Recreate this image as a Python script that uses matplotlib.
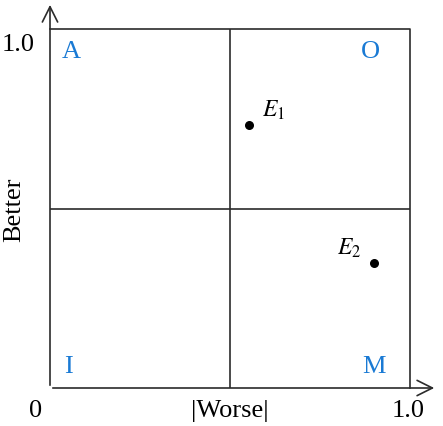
import matplotlib.pyplot as plt

plt.rcParams['font.family'] = ['Liberation Serif', 'DejaVu Serif']

# quadrant labels and their positions
quad_labels = ['A', 'O', 'I', 'M']
quad_x = [0.06, 0.89, 0.05, 0.90]
quad_y = [0.94, 0.94, 0.06, 0.06]

# evaluated points
point_names = ['$E_1$', '$E_2$']
point_x = [0.553, 0.90]
point_y = [0.733, 0.348]

fig = plt.figure(figsize=(4.43, 4.27), dpi=100)
ax = fig.add_axes([50/443, 38/427, 360/443, 359/427])
ax.set_xlim(0, 1)
ax.set_ylim(0, 1)
ax.axis('off')

lc = '#2b2b2b'
# box and quadrant dividers
ax.plot([0, 1, 1], [1, 1, 0], color=lc, lw=1.2, clip_on=False)
ax.plot([0.5, 0.5], [0, 1], color=lc, lw=1.2)
ax.plot([0, 1], [0.5, 0.5], color=lc, lw=1.2)

# axes with open arrows
arrow = dict(arrowstyle='->,head_length=1.1,head_width=0.55', color=lc, lw=1.2)
ax.annotate('', xy=(0, 1.075), xytext=(0, 0), arrowprops=arrow, annotation_clip=False)
ax.annotate('', xy=(1.075, 0), xytext=(0, 0), arrowprops=arrow, annotation_clip=False)

for lab, x, y in zip(quad_labels, quad_x, quad_y):
    ax.text(x, y, lab, color='#1a7ad4', fontsize=19, ha='center', va='center')

ax.scatter(point_x, point_y, color='black', s=30, zorder=3)
ax.text(point_x[0] + 0.035, point_y[0] + 0.01, point_names[0], fontsize=17,
        ha='left', va='bottom', math_fontfamily='stix')
ax.text(point_x[1] - 0.035, point_y[1] + 0.01, point_names[1], fontsize=17,
        ha='right', va='bottom', math_fontfamily='stix')

ax.text(-0.088, 0.958, '1.0', fontsize=19, ha='center', va='center')
ax.text(-0.04, -0.06, '0', fontsize=19, ha='center', va='center')
ax.text(0.5, -0.06, '|Worse|', fontsize=19, ha='center', va='center')
ax.text(0.995, -0.06, '1.0', fontsize=19, ha='center', va='center')
ax.text(-0.1, 0.5, 'Better', fontsize=19, ha='center', va='center', rotation=90)

fig.savefig('out.png', dpi=100)
